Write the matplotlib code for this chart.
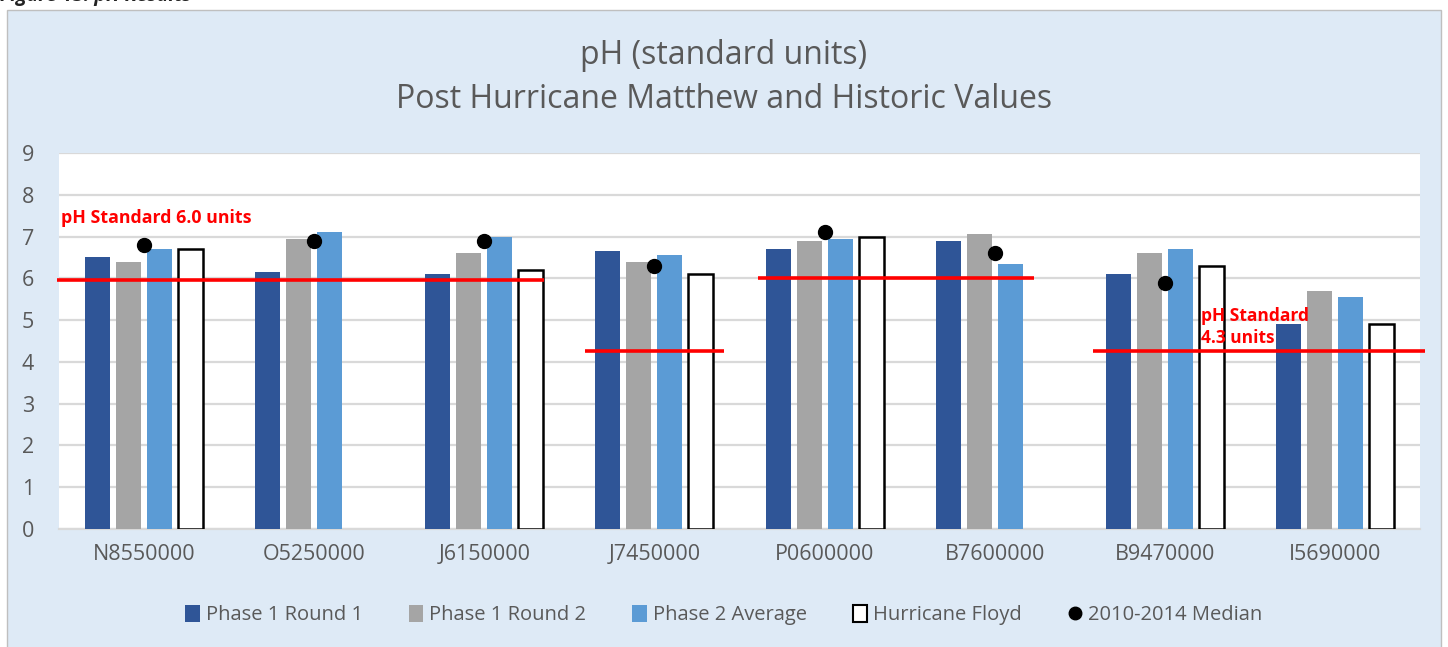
import numpy as np
import matplotlib.pyplot as plt
from matplotlib.patches import Patch, Rectangle
from matplotlib.lines import Line2D

plt.rcParams['font.family'] = ['Open Sans', 'DejaVu Sans']

# data
sites = ['N8550000', 'O5250000', 'J6150000', 'J7450000',
         'P0600000', 'B7600000', 'B9470000', 'I5690000']
phase1_r1 = [6.5, 6.15, 6.1, 6.65, 6.7, 6.9, 6.1, 4.9]
phase1_r2 = [6.4, 6.95, 6.6, 6.4, 6.9, 7.05, 6.6, 5.7]
phase2_avg = [6.7, 7.1, 7.0, 6.55, 6.95, 6.35, 6.7, 5.55]
floyd = [6.7, np.nan, 6.2, 6.1, 7.0, np.nan, 6.3, 4.9]
median_10_14 = [6.8, 6.9, 6.9, 6.3, 7.1, 6.6, 5.9, np.nan]

# standard lines: (value, x start, x end) in category units
std_lines = [(5.95, -0.51, 2.35), (4.27, 2.59, 3.41),
             (6.0, 3.61, 5.23), (4.27, 5.58, 7.53)]

c_r1 = '#2F5597'
c_r2 = '#A5A5A5'
c_p2 = '#5B9BD5'
txt_gray = '#595959'

fig = plt.figure(figsize=(14.48, 6.47), dpi=100)
fig.patch.set_facecolor('white')

# light blue chart frame
frame = Rectangle((7 / 1448, -0.01), 1434 / 1448, 1 - 9.5 / 647 + 0.01,
                  transform=fig.transFigure, facecolor='#DEEAF6',
                  edgecolor='#BFBFBF', linewidth=1, zorder=-5)
fig.patches.append(frame)

fig.text(0.0, 1.006, 'Figure 13: pH Results', fontsize=14, fontweight='bold',
         style='italic', va='center', ha='left', color='#222222')

ax = fig.add_axes([59 / 1448, 1 - 529 / 647, 1361 / 1448, 376 / 647])
ax.set_facecolor('white')

x = np.arange(len(sites))
w = 25 / 170
step = 31 / 170
ax.bar(x - 1.5 * step, phase1_r1, w, color=c_r1, zorder=3)
ax.bar(x - 0.5 * step, phase1_r2, w, color=c_r2, zorder=3)
ax.bar(x + 0.5 * step, phase2_avg, w, color=c_p2, zorder=3)
ax.bar(x + 1.5 * step, floyd, w, facecolor='white', edgecolor='black',
       linewidth=1.8, zorder=3)
ax.plot(x, median_10_14, 'o', color='black', markersize=10, zorder=5)

for val, x0, x1 in std_lines:
    ax.plot([x0, x1], [val, val], color='#FF0000', linewidth=2.6,
            solid_capstyle='butt', zorder=6, clip_on=False)

ax.text(-0.49, 7.45, 'pH Standard 6.0 units', color='#FF0000',
        fontweight='bold', fontsize=12.8, va='center', ha='left', zorder=7)
ax.text(6.21, 4.84, 'pH Standard\n4.3 units', color='#FF0000',
        fontweight='bold', fontsize=12.5, va='center', ha='left',
        linespacing=1.3, zorder=7)

ax.set_xlim(-0.5, len(sites) - 0.5)
ax.set_ylim(0, 9)
ax.set_yticks(range(0, 10))
ax.set_xticks(x)
ax.set_xticklabels(sites)
ax.yaxis.grid(True, color='#D9D9D9', linewidth=1.6, zorder=0)
ax.set_axisbelow(True)
for s in ['top', 'right', 'left']:
    ax.spines[s].set_visible(False)
ax.spines['bottom'].set_color('#D9D9D9')
ax.spines['bottom'].set_linewidth(1.6)
ax.tick_params(axis='both', length=0, labelsize=15.5, colors=txt_gray)
ax.tick_params(axis='y', pad=18)
ax.tick_params(axis='x', pad=11)

fig.text(0.5, 1 - 55 / 647, 'pH (standard units)', ha='center', va='center',
         fontsize=23, color=txt_gray)
fig.text(0.5, 1 - 100 / 647, 'Post Hurricane Matthew and Historic Values',
         ha='center', va='center', fontsize=23, color=txt_gray)

handles = [Patch(facecolor=c_r1), Patch(facecolor=c_r2), Patch(facecolor=c_p2),
           Patch(facecolor='white', edgecolor='black', linewidth=1.5),
           Line2D([], [], marker='o', color='black', linestyle='none',
                  markersize=9)]
labels = ['Phase 1 Round 1', 'Phase 1 Round 2', 'Phase 2 Average',
          'Hurricane Floyd', '2010-2014 Median']
fig.legend(handles, labels, loc='center', bbox_to_anchor=(0.5, 1 - 615 / 647),
           ncol=5, frameon=False, fontsize=14.5, labelcolor=txt_gray,
           handlelength=0.7, handleheight=0.9, handletextpad=0.3,
           columnspacing=2.3)

fig.savefig('out.png', dpi=100)
